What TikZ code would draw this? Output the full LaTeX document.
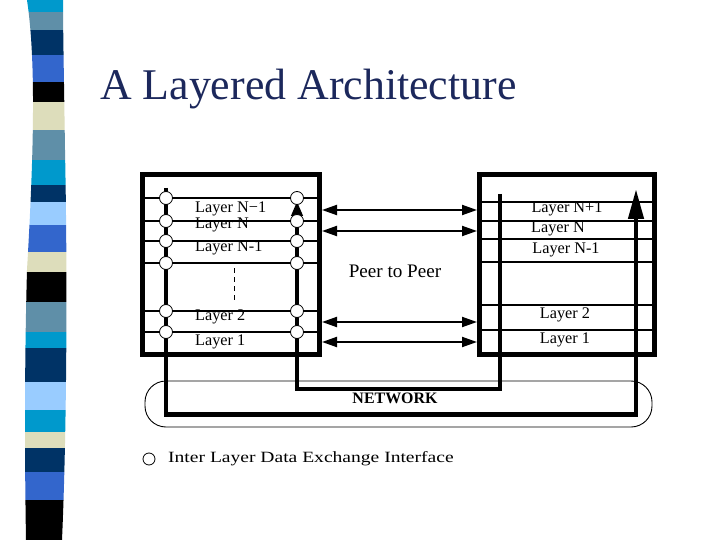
\documentclass[tikz,border=0pt]{standalone}
\usepackage{fontspec}
\setmainfont{Liberation Serif}
\usepackage{graphicx}
\usetikzlibrary{arrows.meta}
\definecolor{stripecyan}{RGB}{0,153,204}
\definecolor{stripesteel}{RGB}{95,143,168}
\definecolor{stripenavy}{RGB}{0,51,102}
\definecolor{striperoyal}{RGB}{51,102,204}
\definecolor{stripebeige}{RGB}{221,221,187}
\definecolor{stripelight}{RGB}{153,204,255}
\definecolor{titleblue}{RGB}{28,40,92}
\tikzstyle{hostbox} = [rectangle, draw=black, line width=5bp, fill=white, inner sep=0pt]
\tikzstyle{layerlabel} = [anchor=base west, inner sep=0pt, font=\fontsize{16.3}{18}\selectfont]
\tikzstyle{rlayerlabel} = [anchor=base, inner sep=0pt, font=\fontsize{16.3}{18}\selectfont]
\tikzstyle{interface} = [circle, draw=black, fill=white, line width=0.8bp, minimum size=13bp, inner sep=0pt]
\tikzstyle{layerline} = [line width=1.8bp]
\tikzstyle{thinline} = [line width=1.2bp]
\tikzstyle{peer} = [line width=2bp, {Triangle[length=15bp,width=10bp]}-{Triangle[length=15bp,width=10bp]}]
\tikzstyle{datapath} = [line width=4.5bp]
\tikzstyle{netshape} = [rectangle, rounded corners=21bp, draw=black, line width=0.9bp, inner sep=0pt]

\begin{document}
\begin{tikzpicture}[x=1bp, y=-1bp]
				\fill[white] (0,0) rectangle (720,540);
				\useasboundingbox (0,0) rectangle (720,540);
				% striped bar on the left
				\begin{scope}
					\clip (27,0) .. controls (36,60) and (34,150) .. (27,270) .. controls (24,380) and (25,480) .. (26,540) -- (62,540) .. controls (66,450) and (68,300) .. (65,150) .. controls (64,80) and (63,30) .. (63,0) -- cycle;
					\foreach \ya/\yb/\col in {0/12/stripecyan, 12/30/stripesteel, 30/55/stripenavy, 55/82/striperoyal, 82/102/black, 102/130/stripebeige, 130/160/stripesteel, 160/185/stripecyan, 185/202/stripenavy, 202/225/stripelight, 225/252/striperoyal, 252/272/stripebeige, 272/302/black, 302/332/stripesteel, 332/348/stripecyan, 348/382/stripenavy, 382/410/stripelight, 410/432/stripecyan, 432/448/stripebeige, 448/472/stripenavy, 472/500/striperoyal, 500/540/black}
						\fill[\col] (20,\ya) rectangle (75,\yb);
				\end{scope}
				\node (title) [anchor=base west, inner sep=0pt, text=titleblue, font=\fontsize{44}{50}\selectfont] at (100,100) {A Layered Architecture};
				% the two hosts
				\node (lefthost) [hostbox, minimum width=177bp, minimum height=180bp] at (231,264.5) {};
				\node (righthost) [hostbox, minimum width=175bp, minimum height=180bp] at (567,264.5) {};
				% network
				\node (network) [netshape, minimum width=507bp, minimum height=46bp] at (398.5,404) {};
				\node (netlabel) [anchor=base, inner sep=0pt, font=\fontsize{16}{18}\selectfont\bfseries] at (395,403) {NETWORK};
				% layer names
				\node (lA) [layerlabel] at (195,213) {Layer N−1};
				\node (lB) [layerlabel] at (195,229) {Layer N};
				\node (lC) [layerlabel] at (195,252) {Layer N-1};
				\node (lD) [layerlabel] at (195,320) {Layer 2};
				\node (lE) [layerlabel] at (195,345) {Layer 1};
				\node (rA) [rlayerlabel] at (567,213) {Layer N+1};
				\node (rB) [rlayerlabel] at (558,233) {Layer N};
				\node (rC) [rlayerlabel] at (566,254) {Layer N-1};
				\node (rD) [rlayerlabel] at (565,318) {Layer 2};
				\node (rE) [rlayerlabel] at (565,343) {Layer 1};
				\node (peerlabel) [anchor=base, inner sep=0pt, font=\fontsize{19.2}{21}\selectfont] at (395,278) {Peer to Peer};
				% layer boundaries
				\foreach \y in {198,221,241,263,311,332}
					\draw [layerline] (lefthost.west |- 0,\y) -- (lefthost.east |- 0,\y);
				\foreach \y in {202,239,262,305,330}
					\draw [thinline] (righthost.west |- 0,\y) -- (righthost.east |- 0,\y);
				\draw [line width=2.5bp] (righthost.west |- 0,221) -- (righthost.east |- 0,221);
				\draw [line width=0.8bp, dash pattern=on 5bp off 4bp] (234,268) -- (234,302);
				% peer to peer arrows
				\foreach \y in {210,231,322,342}
					\draw [peer] (lefthost.east |- 0,\y) -- (righthost.west |- 0,\y);
				% data paths through the network
				\coordinate (outerstart) at (166,188);
				\coordinate (outerend) at (636,189);
				\coordinate (innerstart) at (500,194);
				\coordinate (innerend) at (297,201);
				\draw [datapath, -{Triangle[length=30bp,width=15bp]}] (outerstart) -- ++(0,226.5) -| (outerend);
				\draw [datapath, -{Triangle[length=15bp,width=11bp]}] (innerstart) -- ++(0,195) -| (innerend);
				% interfaces
				\foreach \y [count=\i] in {198,221,241,263,311,332} {
					\node (il\i) [interface] at (166,\y) {};
					\node (ir\i) [interface] at (297,\y) {};
				}
				% legend
				\node (legendmark) [interface, minimum size=12bp] at (149,459) {};
				\node (legendtext) [anchor=base west, inner sep=0pt, font=\fontsize{15.7}{18}\selectfont] at (168,462) {\scalebox{1.25}[1]{Inter Layer Data Exchange Interface}};
			\end{tikzpicture}
\end{document}
